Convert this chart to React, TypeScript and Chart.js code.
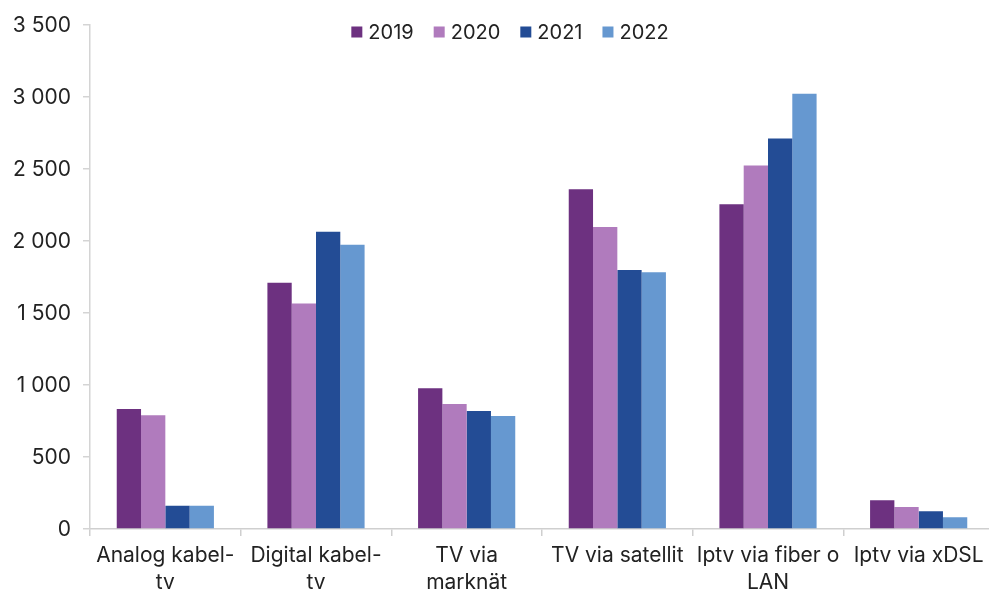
import React, { useEffect, useRef } from 'react';
import { Chart, registerables } from 'chart.js';

Chart.register(...registerables);

const FONT = 'Inter, "Liberation Sans", Arial, sans-serif';

const categories: (string | string[])[] = [
  ['Analog kabel-', 'tv'],
  ['Digital kabel-', 'tv'],
  ['TV via', 'marknät'],
  'TV via satellit',
  ['Iptv via fiber o', 'LAN'],
  'Iptv via xDSL',
];
const seriesNames = ['2019', '2020', '2021', '2022'];
const values2019 = [832, 1708, 976, 2358, 2254, 199];
const values2020 = [790, 1565, 867, 2096, 2522, 153];
const values2021 = [162, 2062, 818, 1798, 2709, 123];
const values2022 = [162, 1972, 784, 1782, 3021, 81];
const yTickLabels = ['0', '500', '1 000', '1 500', '2 000', '2 500', '3 000', '3 500'];
const seriesColors = ['#6d3180', '#b07bbd', '#234c95', '#6698d0'];

const legendPlugin = {
  id: 'topLegend',
  afterDraw(chart: any) {
    const ctx = chart.ctx;
    ctx.save();
    ctx.font = `20px ${FONT}`;
    ctx.textBaseline = 'middle';
    ctx.textAlign = 'left';
    const box = 11;
    const gap = 6;
    const spacing = 20;
    const items = chart.data.datasets.map((ds: any) => ({
      label: ds.label,
      color: ds.backgroundColor,
      w: ctx.measureText(ds.label).width,
    }));
    const total =
      items.reduce((s: number, it: any) => s + box + gap + it.w, 0) + spacing * (items.length - 1);
    let x = 510 - total / 2;
    const y = 32;
    for (const it of items) {
      ctx.fillStyle = it.color;
      ctx.fillRect(x, y - box / 2, box, box);
      ctx.fillStyle = '#222';
      ctx.fillText(it.label, x + box + gap, y + 1);
      x += box + gap + it.w + spacing;
    }
    ctx.restore();
  },
};

export default function App() {
  const canvasRef = useRef<HTMLCanvasElement | null>(null);

  useEffect(() => {
    if (!canvasRef.current) return;
    const seriesValues = [values2019, values2020, values2021, values2022];
    const chart = new Chart(canvasRef.current, {
      type: 'bar',
      data: {
        labels: categories,
        datasets: seriesNames.map((name, i) => ({
          label: name,
          data: seriesValues[i],
          backgroundColor: seriesColors[i],
          borderWidth: 0,
          barPercentage: 1,
          categoryPercentage: 0.645,
        })),
      },
      options: {
        animation: false,
        responsive: true,
        maintainAspectRatio: false,
        layout: { padding: { top: 12, right: 1, left: 0, bottom: 0 } },
        plugins: {
          legend: { display: false },
          tooltip: { enabled: false },
        },
        scales: {
          x: {
            offset: true,
            grid: {
              display: true,
              offset: true,
              drawOnChartArea: false,
              tickLength: 7,
              color: '#cfcfcf',
              lineWidth: 1.5,
            },
            border: { display: true, color: '#cfcfcf', width: 1.5 },
            ticks: {
              color: '#222',
              font: { family: FONT, size: 21, lineHeight: 1.3 },
              padding: 6,
              maxRotation: 0,
              autoSkip: false,
            },
            afterFit: (scale: any) => {
              scale.height = 62;
            },
          },
          y: {
            min: 0,
            max: 3500,
            grid: {
              display: true,
              drawOnChartArea: false,
              tickLength: 7,
              color: '#d4d4d4',
              lineWidth: 1.5,
            },
            border: { display: true, color: '#d4d4d4', width: 1.5 },
            ticks: {
              stepSize: 500,
              color: '#222',
              font: { family: FONT, size: 21 },
              padding: 12,
              labelOffset: 1,
              callback: (v: any) => yTickLabels[Math.round(Number(v) / 500)],
            },
            afterFit: (scale: any) => {
              scale.width = 90;
            },
          },
        },
      },
      plugins: [legendPlugin],
    });
    return () => chart.destroy();
  }, []);

  return (
    <div
      style={{
        position: 'fixed',
        left: 0,
        top: 0,
        width: 989,
        height: 591,
        overflow: 'hidden',
        background: '#fff',
      }}
    >
      <div style={{ position: 'relative', width: 995, height: 591 }}>
        <canvas ref={canvasRef} />
      </div>
    </div>
  );
}
